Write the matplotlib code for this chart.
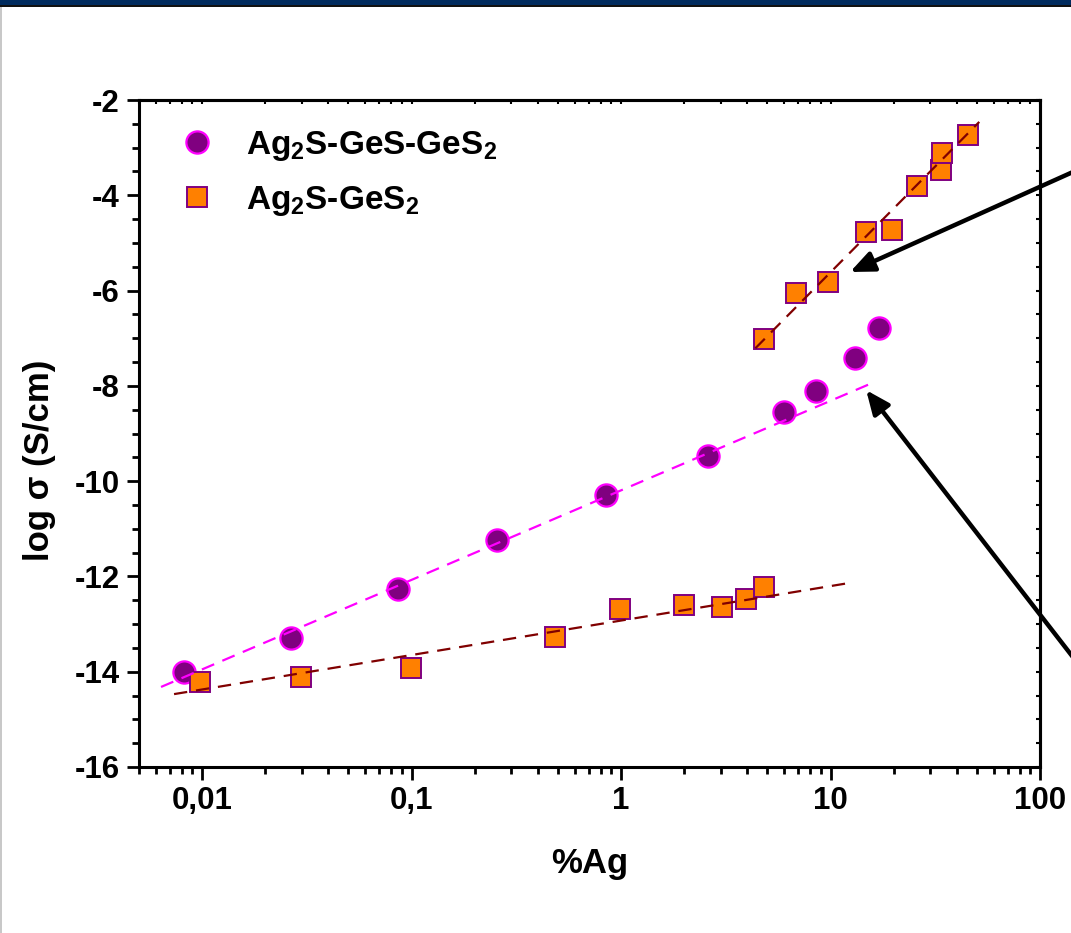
import matplotlib
matplotlib.use("Agg")
import matplotlib.pyplot as plt
from matplotlib.patches import Rectangle
from matplotlib.ticker import FixedLocator, MultipleLocator, NullFormatter, LogLocator

plt.rcParams['font.family'] = ['Liberation Sans', 'DejaVu Sans']
plt.rcParams['font.weight'] = 'bold'
plt.rcParams['mathtext.fontset'] = 'custom'
plt.rcParams['mathtext.rm'] = 'Liberation Sans:bold'
plt.rcParams['mathtext.it'] = 'Liberation Sans:bold:italic'
plt.rcParams['mathtext.bf'] = 'Liberation Sans:bold'
plt.rcParams['mathtext.default'] = 'rm'

# ---- data ----
ges_x = [0.0082, 0.0266, 0.086, 0.255, 0.845, 2.59, 6.03, 8.57, 13.1, 17.1]
ges_y = [-14.00, -13.29, -12.26, -11.24, -10.29, -9.47, -8.55, -8.11, -7.42, -6.79]

gs2_low_x = [0.0098, 0.0297, 0.099, 0.482, 0.985, 1.99, 3.05, 3.97, 4.84]
gs2_low_y = [-14.22, -14.11, -13.92, -13.27, -12.68, -12.60, -12.64, -12.47, -12.22]

gs2_high_x = [4.84, 6.88, 9.77, 14.7, 19.7, 25.9, 33.8, 34.2, 45.5]
gs2_high_y = [-7.02, -6.05, -5.82, -4.77, -4.73, -3.81, -3.47, -3.11, -2.73]

fit_ges_x = [0.00637, 16.2]
fit_ges_y = [-14.32, -7.92]
fit_low_x = [0.00735, 12.2]
fit_low_y = [-14.47, -12.14]
fit_high_x = [4.38, 51.3]
fit_high_y = [-7.21, -2.46]

arrow_tips = [(12.4, -5.61), (14.8, -8.09)]
arrow_tails = [(1.0205, 0.8253), (1.0205, 0.268)]

xticks = [0.01, 0.1, 1, 10, 100]
xticklabels = ['0,01', '0,1', '1', '10', '100']
yticks = [-16, -14, -12, -10, -8, -6, -4, -2]
yticklabels = ['-16', '-14', '-12', '-10', '-8', '-6', '-4', '-2']

label1 = 'Ag$_2$S-GeS-GeS$_2$'
label2 = 'Ag$_2$S-GeS$_2$'

# ---- figure ----
W, H = 1071, 933
fig = plt.figure(figsize=(W/100, H/100), dpi=100)
fig.patch.set_facecolor('white')

# frame decoration
fig.patches.append(Rectangle((0, 1 - 5/H), 1, 5/H, transform=fig.transFigure,
                             facecolor='#002B5E', edgecolor='none', zorder=0))
fig.patches.append(Rectangle((0, 1 - 7/H), 1, 2/H, transform=fig.transFigure,
                             facecolor='#111111', edgecolor='none', zorder=0))
fig.patches.append(Rectangle((0, 0), 1.5/W, 1 - 7/H, transform=fig.transFigure,
                             facecolor='#C8C8C8', edgecolor='none', zorder=0))

ax = fig.add_axes([139/W, 1 - 767/H, (1040-139)/W, (767-100)/H])
ax.set_xscale('log')
ax.set_xlim(0.005, 100)
ax.set_ylim(-16, -2)

purple = '#800080'
magenta = '#FF00FF'
orange = '#FF8000'
brown = '#800000'

ax.plot(ges_x, ges_y, linestyle='none', marker='o', markersize=16,
        markerfacecolor=purple, markeredgecolor=magenta, markeredgewidth=1.6,
        label=label1, zorder=3)
ax.plot(gs2_low_x, gs2_low_y, linestyle='none', marker='s', markersize=14.5,
        markerfacecolor=orange, markeredgecolor=purple, markeredgewidth=1.4,
        label=label2, zorder=3)
ax.plot(gs2_high_x, gs2_high_y, linestyle='none', marker='s', markersize=14.5,
        markerfacecolor=orange, markeredgecolor=purple, markeredgewidth=1.4,
        zorder=3)

ax.plot(fit_ges_x, fit_ges_y, color=magenta, lw=1.6, dashes=(6, 4), zorder=4)
ax.plot(fit_low_x, fit_low_y, color=brown, lw=1.6, dashes=(6, 4), zorder=4)
ax.plot(fit_high_x, fit_high_y, color=brown, lw=1.6, dashes=(6, 4), zorder=4)

for tip, tail in zip(arrow_tips, arrow_tails):
    ax.annotate('', xy=tip, xycoords='data', xytext=tail, textcoords='figure fraction',
                arrowprops=dict(arrowstyle='-|>,head_length=0.65,head_width=0.28',
                                mutation_scale=22, lw=3.2, color='black',
                                shrinkA=0, shrinkB=0),
                annotation_clip=False, zorder=5)

# ticks
ax.xaxis.set_major_locator(FixedLocator(xticks))
ax.set_xticklabels(xticklabels)
ax.xaxis.set_minor_locator(LogLocator(base=10, subs=range(2, 10), numticks=20))
ax.xaxis.set_minor_formatter(NullFormatter())
ax.yaxis.set_major_locator(FixedLocator(yticks))
ax.set_yticklabels(yticklabels)
ax.yaxis.set_minor_locator(MultipleLocator(0.5))

for s in ax.spines.values():
    s.set_linewidth(2.2)
ax.tick_params(axis='both', which='major', direction='out', length=9, width=2.0,
               labelsize=22.5, pad=5)
ax.tick_params(axis='both', which='minor', direction='out', length=5, width=2.0)
# secondary small inward ticks on top/right
axt = ax.secondary_xaxis('top')
axt.xaxis.set_major_locator(FixedLocator(xticks))
axt.xaxis.set_minor_locator(LogLocator(base=10, subs=range(2, 10), numticks=20))
axt.xaxis.set_minor_formatter(NullFormatter())
axt.tick_params(which='both', direction='in', length=3, width=1.5, labeltop=False)
axt.spines['top'].set_linewidth(2.2)
axr = ax.secondary_yaxis('right')
axr.yaxis.set_major_locator(FixedLocator(yticks))
axr.yaxis.set_minor_locator(MultipleLocator(0.5))
axr.tick_params(which='both', direction='in', length=3, width=1.5, labelright=False)
axr.spines['right'].set_linewidth(2.2)

for lab in ax.get_xticklabels() + ax.get_yticklabels():
    lab.set_fontweight('bold')

ax.set_xlabel('%Ag', fontsize=25, fontweight='bold')
ax.set_ylabel('log σ (S/cm)', fontsize=25, fontweight='bold')
ax.xaxis.label.set_verticalalignment('center')
ax.yaxis.label.set_verticalalignment('center')
ax.xaxis.set_label_coords(0.5006, -0.1454)
ax.yaxis.set_label_coords(-0.110, 0.460)

leg = ax.legend(loc='upper left', bbox_to_anchor=(0.0466, 0.9565), frameon=False,
                fontsize=24, numpoints=1, handlelength=0.95, handletextpad=1.0,
                labelspacing=0.62, borderpad=0, borderaxespad=0)

fig.savefig('out.png', dpi=100)
